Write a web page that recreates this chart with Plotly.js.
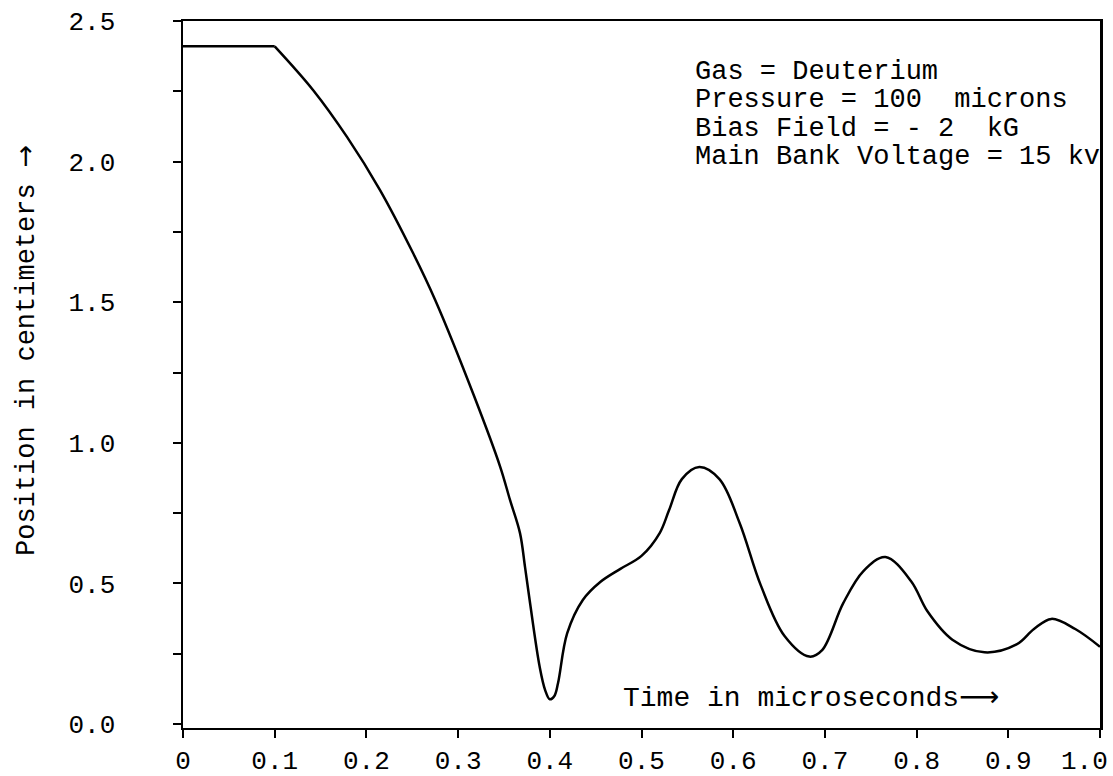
<!DOCTYPE html>
<html>
<head>
<meta charset="utf-8">
<script src="https://cdn.plot.ly/plotly-3.0.1.min.js"></script>
<style>html,body{margin:0;padding:0;background:#fff;overflow:hidden;}</style>
</head>
<body>
<div id="chart" style="width:1113px;height:776px;"></div>
<script>
// Flat initial segment (sharp corner at 0.1 us)
const flatTime = [0, 0.10];
const flatPos = [2.41, 2.41];

// Main trajectory
const timeUs = [0.10, 0.142, 0.179, 0.215, 0.251, 0.275, 0.317, 0.346, 0.3566, 0.3675, 0.373, 0.378, 0.389, 0.395, 0.400, 0.405, 0.409, 0.419, 0.436, 0.455, 0.477, 0.500, 0.520, 0.530, 0.544, 0.563, 0.585, 0.607, 0.630, 0.656, 0.683, 0.697, 0.720, 0.742, 0.766, 0.794, 0.812, 0.839, 0.874, 0.909, 0.928, 0.947, 0.973, 1.0];
const positionCm = [2.41, 2.254, 2.087, 1.898, 1.674, 1.508, 1.17, 0.914, 0.797, 0.679, 0.558, 0.441, 0.203, 0.12, 0.088, 0.10, 0.146, 0.323, 0.441, 0.505, 0.552, 0.598, 0.68, 0.76, 0.871, 0.914, 0.871, 0.715, 0.494, 0.313, 0.24, 0.263, 0.43, 0.544, 0.594, 0.508, 0.40, 0.30, 0.255, 0.283, 0.338, 0.374, 0.338, 0.275];

const xTickVals = [0, 0.1, 0.2, 0.3, 0.4, 0.5, 0.6, 0.7, 0.8, 0.9, 1.0];
const xTickText = ["0", "0.1", "0.2", "0.3", "0.4", "0.5", "0.6", "0.7", "0.8", "0.9", "1.0\u00a0\u00a0"];
const yTickVals = [0, 0.25, 0.5, 0.75, 1.0, 1.25, 1.5, 1.75, 2.0, 2.25, 2.5];
const yTickText = ["0.0", "", "0.5", "", "1.0", "", "1.5", "", "2.0", "", "2.5"];

const infoLines = [
  "Gas = Deuterium",
  "Pressure = 100\u00a0 microns",
  "Bias Field = - 2\u00a0 kG",
  "Main Bank Voltage = 15 kv"
];
const xTitle = "Time in microseconds<span style=\"font-family:'DejaVu Sans'\">\u27f6</span>";
const yTitle = "Position in centimeters <span style=\"font-family:'DejaVu Sans'\">\u2192</span>";

const FONT = "Liberation Mono, Courier New, monospace";
const L = 183, R = 1100, T = 21, B = 728;

const traces = [
  {x: flatTime, y: flatPos, mode: "lines", line: {color: "#000", width: 2.5}, hoverinfo: "skip"},
  {x: timeUs, y: positionCm, mode: "lines", line: {color: "#000", width: 2.5, shape: "spline", smoothing: 1}}
];

const W = R - L, H = B - T;
const annotations = infoLines.map((t, i) => ({
  text: t, xref: "paper", yref: "paper",
  x: (693 - L) / W, y: 1 - (72 + i * 28.5 - T) / H,
  xanchor: "left", yanchor: "middle", showarrow: false,
  font: {family: FONT, size: 27, color: "#000"}
}));
annotations.push({
  text: xTitle, xref: "paper", yref: "paper",
  x: (621 - L) / W, y: 1 - (697 - T) / H,
  xanchor: "left", yanchor: "middle", showarrow: false,
  font: {family: FONT, size: 28, color: "#000"}
});
annotations.push({
  text: yTitle, xref: "paper", yref: "paper",
  x: (25 - L) / W, y: 1 - (350 - T) / H,
  xanchor: "center", yanchor: "middle", textangle: -90, showarrow: false,
  font: {family: FONT, size: 27, color: "#000"}
});

const layout = {
  width: 1113, height: 776,
  margin: {l: L, r: 1113 - R, t: T, b: 776 - B},
  paper_bgcolor: "#fff", plot_bgcolor: "#fff",
  showlegend: false,
  font: {family: FONT, size: 26, color: "#000"},
  xaxis: {
    range: [0, 1.0], tickvals: xTickVals, ticktext: xTickText,
    showgrid: false, zeroline: false,
    showline: true, linecolor: "#000", linewidth: 2, mirror: true,
    ticks: "outside", ticklen: 8, tickwidth: 2, tickcolor: "#000",
    ticklabelstandoff: 0, ticklabeloverflow: "allow",
    tickfont: {family: FONT, size: 26, color: "#000"}
  },
  yaxis: {
    range: [-0.014, 2.5], tickvals: yTickVals, ticktext: yTickText,
    showgrid: false, zeroline: false,
    showline: true, linecolor: "#000", linewidth: 2.5, mirror: true,
    ticks: "outside", ticklen: 8, tickwidth: 2, tickcolor: "#000",
    ticklabelstandoff: 52,
    tickfont: {family: FONT, size: 26, color: "#000"}
  },
  annotations: annotations
};

Plotly.newPlot("chart", traces, layout, {displayModeBar: false, staticPlot: true});
</script>
</body>
</html>
